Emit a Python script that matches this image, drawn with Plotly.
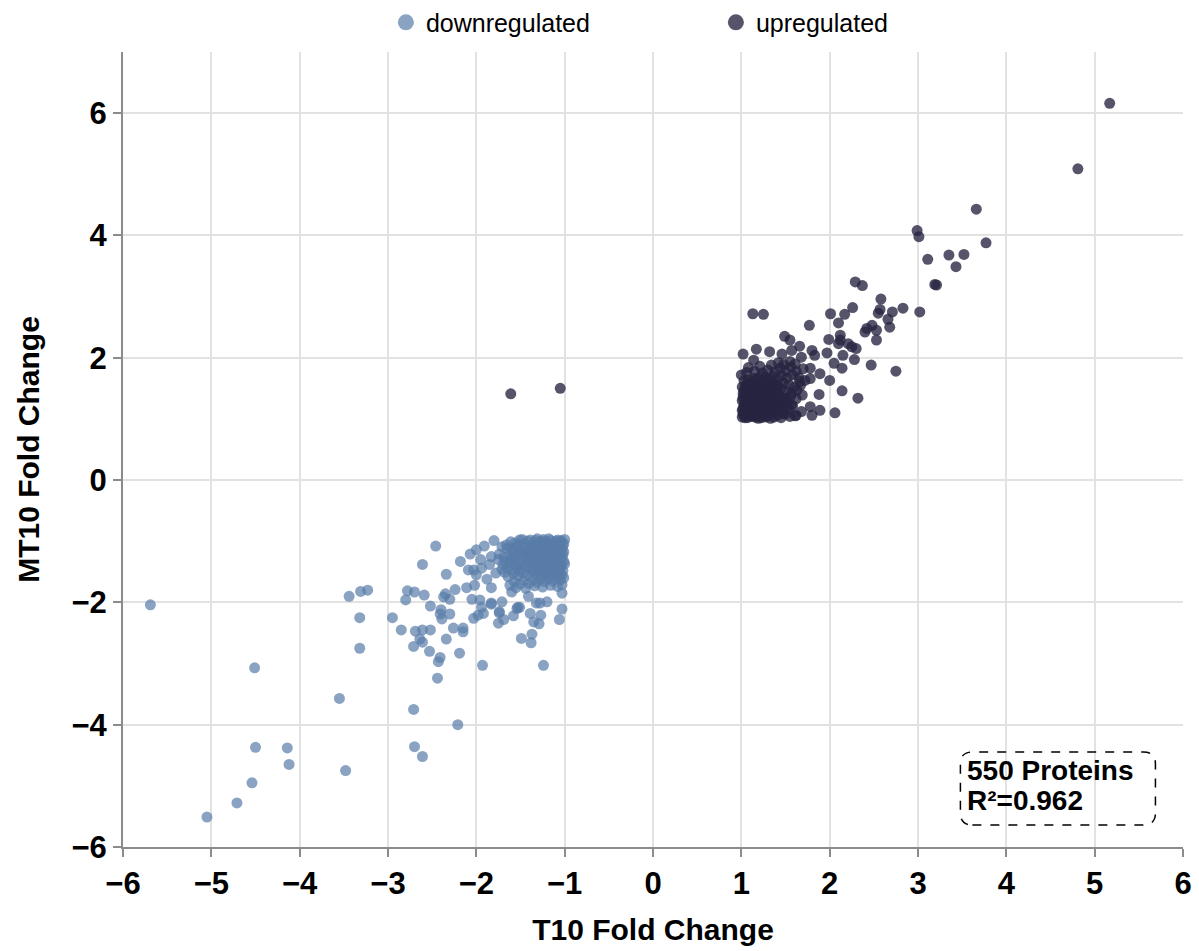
import plotly.graph_objects as go

# ---------------- data ----------------
up_outliers = [
    (5.17, 6.16), (4.81, 5.09), (3.66, 4.43), (2.99, 4.08), (3.01, 3.98), (3.77, 3.88),
    (3.11, 3.61), (3.35, 3.68), (3.52, 3.69), (3.43, 3.49), (2.29, 3.24), (2.37, 3.18),
    (3.19, 3.20), (3.21, 3.19), (2.58, 2.96), (2.57, 2.79), (2.55, 2.73), (2.71, 2.75),
    (2.83, 2.81), (3.02, 2.75), (2.26, 2.82), (2.17, 2.71), (2.01, 2.72), (2.66, 2.63),
    (2.68, 2.50), (2.53, 2.45), (2.48, 2.53), (2.42, 2.48), (2.40, 2.42), (2.53, 2.29),
    (2.10, 2.57), (1.77, 2.53), (1.13, 2.72), (1.25, 2.71), (2.12, 2.37), (2.12, 2.29),
    (2.10, 2.23), (1.99, 2.30), (2.21, 2.23), (2.25, 2.18), (2.30, 2.15), (2.15, 2.04),
    (2.28, 1.97), (1.97, 2.08), (2.47, 1.88), (2.75, 1.78), (2.05, 1.91), (2.14, 1.83),
    (2.00, 1.63), (2.14, 1.46), (2.32, 1.34), (2.06, 1.10), (1.88, 1.40), (1.89, 1.14),
    (1.80, 1.06), (1.68, 1.12), (1.61, 1.05), (1.49, 2.35), (1.55, 2.29), (1.66, 2.19),
    (1.80, 2.12), (1.83, 2.04), (1.68, 2.01), (1.57, 2.12), (1.46, 2.06), (1.02, 2.06),
    (1.17, 2.14), (1.32, 2.10), (1.14, 1.96), (1.08, 1.84), (1.00, 1.72), (1.78, 1.83),
    (1.89, 1.74), (1.78, 1.66), (1.66, 1.61), (1.69, 1.39), (1.78, 1.20), (1.57, 1.23),
    (1.62, 1.06), (1.48, 1.09), (-1.61, 1.41), (-1.05, 1.50),
]

up_cluster = [
    (1.01, 1.03), (1.04, 1.06), (1.07, 1.02), (1.10, 1.05), (1.13, 1.08), (1.16, 1.03),
    (1.19, 1.06), (1.22, 1.02), (1.25, 1.07), (1.29, 1.04), (1.33, 1.09), (1.37, 1.03),
    (1.41, 1.06), (1.45, 1.02), (1.50, 1.08), (1.55, 1.04), (1.03, 1.10), (1.09, 1.12),
    (1.15, 1.11), (1.21, 1.13), (1.27, 1.10), (1.34, 1.14), (1.40, 1.12), (1.47, 1.15),
    (1.02, 1.17), (1.06, 1.20), (1.11, 1.18), (1.14, 1.23), (1.18, 1.16), (1.23, 1.21),
    (1.26, 1.18), (1.30, 1.24), (1.35, 1.19), (1.38, 1.25), (1.43, 1.20), (1.49, 1.22),
    (1.53, 1.17), (1.58, 1.21), (1.04, 1.25), (1.08, 1.27), (1.12, 1.24), (1.17, 1.28),
    (1.21, 1.26), (1.28, 1.29), (1.32, 1.27), (1.36, 1.30), (1.42, 1.28), (1.46, 1.31),
    (1.52, 1.27), (1.01, 1.30), (1.05, 1.33), (1.10, 1.31), (1.15, 1.35), (1.19, 1.32),
    (1.24, 1.36), (1.29, 1.34), (1.33, 1.38), (1.39, 1.35), (1.44, 1.37), (1.50, 1.34),
    (1.56, 1.38), (1.62, 1.33), (1.02, 1.41), (1.07, 1.44), (1.12, 1.40), (1.16, 1.46),
    (1.21, 1.42), (1.26, 1.47), (1.31, 1.43), (1.35, 1.48), (1.40, 1.44), (1.45, 1.49),
    (1.51, 1.45), (1.57, 1.42), (1.63, 1.47), (1.04, 1.50), (1.09, 1.53), (1.14, 1.51),
    (1.19, 1.55), (1.24, 1.52), (1.28, 1.57), (1.33, 1.54), (1.37, 1.58), (1.42, 1.55),
    (1.48, 1.59), (1.54, 1.56), (1.60, 1.52), (1.67, 1.55), (1.03, 1.62), (1.08, 1.64),
    (1.13, 1.61), (1.18, 1.66), (1.23, 1.63), (1.27, 1.68), (1.32, 1.64), (1.36, 1.70),
    (1.41, 1.66), (1.46, 1.71), (1.52, 1.67), (1.58, 1.72), (1.65, 1.68), (1.72, 1.63),
    (1.06, 1.76), (1.15, 1.78), (1.24, 1.75), (1.30, 1.80), (1.38, 1.77), (1.44, 1.83),
    (1.50, 1.79), (1.56, 1.85), (1.62, 1.78), (1.70, 1.82), (1.34, 1.88), (1.42, 1.92),
    (1.48, 1.89), (1.55, 1.94), (1.61, 1.90), (1.21, 1.86), (1.02, 1.08), (1.05, 1.14),
    (1.08, 1.09), (1.11, 1.15), (1.14, 1.13), (1.18, 1.09), (1.21, 1.17), (1.24, 1.11),
    (1.28, 1.15), (1.31, 1.12), (1.36, 1.16), (1.03, 1.22), (1.07, 1.24), (1.10, 1.21),
    (1.13, 1.29), (1.17, 1.24), (1.20, 1.30), (1.25, 1.26), (1.29, 1.21), (1.33, 1.31),
    (1.38, 1.22), (1.02, 1.35), (1.06, 1.38), (1.09, 1.36), (1.12, 1.45), (1.17, 1.39),
    (1.22, 1.37), (1.26, 1.41), (1.31, 1.38), (1.36, 1.42), (1.41, 1.39), (1.03, 1.46),
    (1.06, 1.56), (1.10, 1.48), (1.15, 1.57), (1.20, 1.49), (1.25, 1.58), (1.30, 1.51),
    (1.35, 1.60), (1.40, 1.52), (1.01, 1.14), (1.04, 1.02), (1.12, 1.04), (1.19, 1.01),
    (1.26, 1.03), (1.33, 1.01), (1.08, 1.17), (1.16, 1.19), (1.23, 1.15), (1.05, 1.29),
    (1.11, 1.26), (1.18, 1.33), (1.27, 1.33), (1.01, 1.52), (1.08, 1.58), (1.14, 1.66),
    (1.22, 1.69), (1.29, 1.62),
]

down_outliers = [
    (-5.69, -2.04), (-4.51, -3.07), (-3.55, -3.57), (-3.32, -2.75), (-3.32, -2.25),
    (-3.44, -1.90), (-3.31, -1.82), (-3.23, -1.80), (-2.95, -2.25), (-2.78, -1.81),
    (-2.70, -1.83), (-2.80, -1.96), (-2.59, -1.88), (-2.52, -2.06), (-2.46, -1.08),
    (-2.61, -1.38), (-2.34, -1.54), (-2.85, -2.45), (-2.69, -2.47), (-2.61, -2.45),
    (-2.52, -2.45), (-2.64, -2.60), (-2.61, -2.65), (-2.71, -2.72), (-2.53, -2.80),
    (-2.41, -2.90), (-2.43, -2.97), (-2.44, -3.24), (-2.37, -1.91), (-2.40, -2.12),
    (-2.41, -2.19), (-2.39, -2.27), (-2.34, -2.60), (-2.71, -3.75), (-4.50, -4.37),
    (-4.14, -4.38), (-4.12, -4.65), (-4.54, -4.95), (-4.71, -5.28), (-5.05, -5.51),
    (-3.48, -4.75), (-2.70, -4.36), (-2.61, -4.52), (-2.19, -2.83), (-2.26, -2.42),
    (-2.15, -2.42), (-2.15, -2.48), (-1.93, -3.03), (-2.21, -4.00), (-1.24, -3.03),
    (-1.49, -2.59), (-1.38, -2.66), (-1.37, -2.52), (-1.06, -2.28), (-1.03, -2.11),
    (-2.30, -2.19), (-2.03, -2.26), (-1.98, -2.21), (-1.92, -2.18), (-1.83, -2.03),
    (-1.74, -2.15), (-1.75, -2.34), (-1.69, -2.28), (-1.58, -2.22), (-1.54, -2.10),
    (-1.51, -2.08), (-1.39, -2.18), (-1.35, -2.32), (-1.29, -2.35), (-1.27, -2.21),
    (-1.32, -2.01), (-1.20, -1.99), (-1.80, -0.99), (-1.91, -1.08), (-2.00, -1.14),
    (-2.07, -1.21), (-2.18, -1.33), (-2.09, -1.47), (-2.03, -1.47), (-1.94, -1.44),
    (-2.00, -1.55), (-1.83, -1.25), (-2.02, -1.72), (-2.11, -1.76), (-1.83, -1.76),
    (-2.24, -1.79), (-2.35, -1.86), (-2.30, -1.95), (-2.05, -1.95), (-1.96, -1.96),
    (-1.94, -2.08), (-1.83, -2.01), (-1.71, -1.99), (-1.60, -1.83), (-1.41, -1.90),
    (-1.28, -2.01), (-1.53, -2.08), (-1.74, -2.17), (-1.03, -1.85), (-1.95, -1.30),
    (-1.88, -1.62), (-1.78, -1.52), (-1.85, -1.38),
]

down_cluster = [
    (-1.00, -0.97), (-1.04, -1.01), (-1.08, -0.98), (-1.12, -1.03), (-1.16, -0.99),
    (-1.20, -1.04), (-1.24, -0.97), (-1.28, -1.02), (-1.33, -0.99), (-1.37, -1.05),
    (-1.42, -1.00), (-1.46, -1.04), (-1.51, -0.98), (-1.56, -1.03), (-1.61, -1.01),
    (-1.66, -1.06), (-1.02, -1.08), (-1.07, -1.10), (-1.11, -1.07), (-1.15, -1.11),
    (-1.19, -1.08), (-1.23, -1.12), (-1.27, -1.09), (-1.31, -1.13), (-1.36, -1.10),
    (-1.40, -1.14), (-1.45, -1.11), (-1.50, -1.15), (-1.55, -1.10), (-1.60, -1.14),
    (-1.65, -1.12), (-1.71, -1.09), (-1.01, -1.17), (-1.05, -1.20), (-1.09, -1.16),
    (-1.13, -1.22), (-1.17, -1.18), (-1.21, -1.23), (-1.26, -1.19), (-1.30, -1.24),
    (-1.34, -1.20), (-1.38, -1.25), (-1.43, -1.21), (-1.48, -1.26), (-1.53, -1.22),
    (-1.58, -1.27), (-1.63, -1.23), (-1.69, -1.26), (-1.74, -1.21), (-1.03, -1.27),
    (-1.07, -1.30), (-1.11, -1.26), (-1.15, -1.31), (-1.20, -1.28), (-1.24, -1.32),
    (-1.28, -1.29), (-1.33, -1.33), (-1.37, -1.30), (-1.41, -1.34), (-1.46, -1.31),
    (-1.51, -1.35), (-1.56, -1.32), (-1.62, -1.36), (-1.67, -1.33), (-1.00, -1.37),
    (-1.04, -1.40), (-1.08, -1.36), (-1.12, -1.42), (-1.16, -1.38), (-1.21, -1.43),
    (-1.25, -1.39), (-1.29, -1.44), (-1.34, -1.40), (-1.39, -1.45), (-1.44, -1.41),
    (-1.49, -1.46), (-1.54, -1.42), (-1.59, -1.47), (-1.65, -1.43), (-1.71, -1.46),
    (-1.02, -1.48), (-1.06, -1.51), (-1.10, -1.47), (-1.14, -1.53), (-1.19, -1.49),
    (-1.23, -1.54), (-1.28, -1.50), (-1.32, -1.55), (-1.37, -1.51), (-1.42, -1.56),
    (-1.47, -1.52), (-1.53, -1.57), (-1.58, -1.53), (-1.64, -1.58), (-1.01, -1.60),
    (-1.05, -1.63), (-1.09, -1.59), (-1.14, -1.65), (-1.18, -1.61), (-1.23, -1.66),
    (-1.27, -1.62), (-1.32, -1.67), (-1.36, -1.63), (-1.41, -1.69), (-1.46, -1.64),
    (-1.51, -1.70), (-1.57, -1.66), (-1.62, -1.72), (-1.03, -1.71), (-1.08, -1.74),
    (-1.16, -1.72), (-1.25, -1.75), (-1.34, -1.73), (-1.44, -1.77), (-1.55, -1.76),
    (-1.01, -1.04), (-1.03, -1.13), (-1.06, -1.05), (-1.09, -1.12), (-1.13, -1.06),
    (-1.17, -1.14), (-1.21, -1.01), (-1.25, -1.15), (-1.29, -1.06), (-1.34, -1.16),
    (-1.39, -1.08), (-1.44, -1.17), (-1.02, -1.22), (-1.06, -1.25), (-1.10, -1.32),
    (-1.14, -1.27), (-1.18, -1.24), (-1.22, -1.34), (-1.27, -1.25), (-1.31, -1.18),
    (-1.35, -1.27), (-1.40, -1.20), (-1.01, -1.33), (-1.05, -1.44), (-1.08, -1.41),
    (-1.12, -1.35), (-1.17, -1.45), (-1.22, -1.38), (-1.26, -1.46), (-1.31, -1.36),
    (-1.36, -1.47), (-1.41, -1.38), (-1.03, -1.55), (-1.07, -1.57), (-1.12, -1.50),
    (-1.16, -1.56), (-1.21, -1.52), (-1.26, -1.57), (-1.30, -1.47), (-1.04, -0.99),
    (-1.10, -1.00), (-1.18, -0.96), (-1.26, -1.00), (-1.31, -0.96), (-1.39, -0.98),
    (-1.48, -0.97), (-1.53, -1.07), (-1.58, -1.18), (-1.49, -1.20), (-1.56, -1.39),
    (-1.61, -1.30), (-1.52, -1.49), (-1.68, -1.51), (-1.70, -1.38), (-1.75, -1.30),
]

series_names = ["downregulated", "upregulated"]
x_ticks = [-6, -5, -4, -3, -2, -1, 0, 1, 2, 3, 4, 5, 6]
y_ticks = [-6, -4, -2, 0, 2, 4, 6]
x_title = "T10 Fold Change"
y_title = "MT10 Fold Change"
stats_lines = ["550 Proteins", "R²=0.962"]

# ---------------- styling ----------------
DOWN_COLOR = "#587ca8"
UP_COLOR = "#262440"
FONT = "Liberation Sans, Arial, sans-serif"

down_pts = down_outliers + down_cluster
up_pts = up_outliers + up_cluster

fig = go.Figure()

for name, pts, color, op in [
    (series_names[0], down_pts, DOWN_COLOR, 0.7),
    (series_names[1], up_pts, UP_COLOR, 0.78),
]:
    fig.add_trace(go.Scatter(
        x=[p[0] for p in pts], y=[p[1] for p in pts], mode="markers",
        name=name, showlegend=False, legendgroup=name,
        marker=dict(size=11, color=color, opacity=op, line=dict(width=0)),
    ))
    # legend-only entry with a larger symbol
    fig.add_trace(go.Scatter(
        x=[None], y=[None], mode="markers", name=name, legendgroup=name,
        marker=dict(size=16, color=color, opacity=op, line=dict(width=0)),
    ))

# rounded dashed box around stats text (paper coords)
x0, x1, y0, y1 = 0.790, 0.974, 0.0277, 0.1195
rx, ry = 0.0113, 0.0151
path = (f"M {x0+rx},{y0} L {x1-rx},{y0} Q {x1},{y0} {x1},{y0+ry} "
        f"L {x1},{y1-ry} Q {x1},{y1} {x1-rx},{y1} L {x0+rx},{y1} "
        f"Q {x0},{y1} {x0},{y1-ry} L {x0},{y0+ry} Q {x0},{y0} {x0+rx},{y0} Z")
fig.add_shape(type="path", path=path, xref="paper", yref="paper",
              line=dict(color="black", width=1.5, dash="dash"))
for line_text, ypos in zip(stats_lines, [0.0956, 0.0579]):
    fig.add_annotation(x=0.7945, y=ypos, xref="paper", yref="paper",
                       xanchor="left", yanchor="middle", align="left",
                       text=line_text, showarrow=False,
                       font=dict(family=FONT, size=28, color="black", weight="bold"))

axis_common = dict(
    showgrid=True, gridcolor="#e2e2e2", gridwidth=2,
    showline=True, linecolor="#8c8c8c", linewidth=2,
    ticks="outside", ticklen=8, tickwidth=1.5, tickcolor="#8c8c8c",
    zeroline=False,
    tickfont=dict(family=FONT, size=31, color="black", weight="bold"),
)

fig.update_xaxes(
    range=[-6, 6], tickvals=x_ticks, ticktext=[str(v).replace("-", "−") for v in x_ticks],
    title=dict(text=x_title, standoff=19,
               font=dict(family=FONT, size=30, color="black", weight="bold")),
    **axis_common,
)
fig.update_yaxes(
    range=[-6, 7], tickvals=y_ticks, ticktext=[str(v).replace("-", "−") for v in y_ticks],
    title=dict(text=y_title, standoff=23,
               font=dict(family=FONT, size=30, color="black", weight="bold")),
    **axis_common,
)

fig.update_layout(
    width=1199, height=951,
    margin=dict(l=123, r=16, t=52, b=104, autoexpand=False),
    plot_bgcolor="white", paper_bgcolor="white",
    legend=dict(orientation="h", x=0.248, xanchor="left", y=1.037, yanchor="middle",
                font=dict(family=FONT, size=25, color="black"),
                entrywidth=285, itemsizing="trace"),
)

# remove the default 8px page margin so the figure fills the window exactly
fig.write_html("out.html", config={"displayModeBar": False},
               post_script="document.body.style.margin='0';")
